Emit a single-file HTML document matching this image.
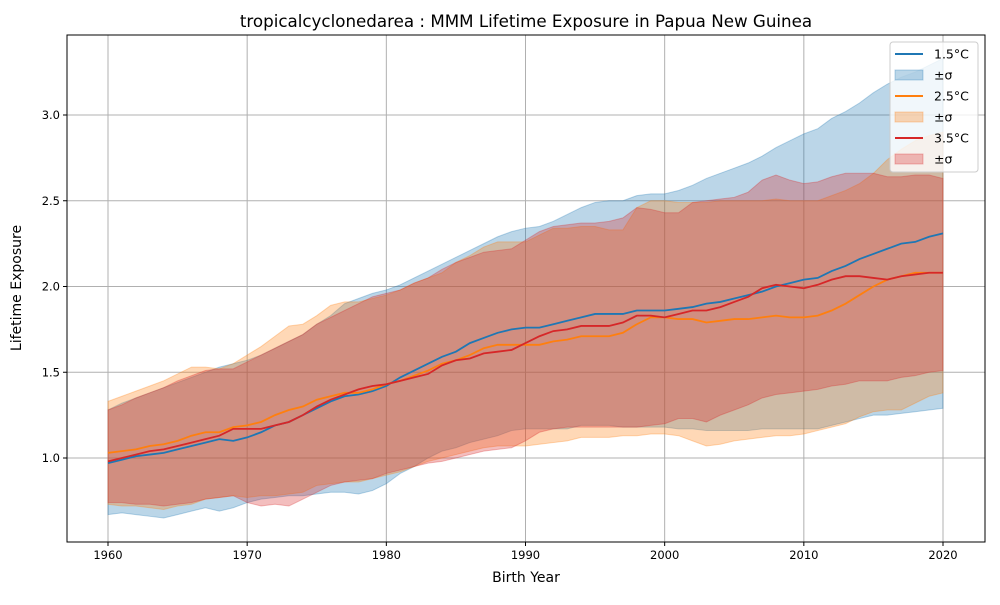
<!DOCTYPE html>
<html><head><meta charset="utf-8"><style>
body{margin:0;background:#fff;font-family:"Liberation Sans","DejaVu Sans",sans-serif}
svg text{font-family:"DejaVu Sans","Liberation Sans",sans-serif}
</style></head><body>
<svg id="chart" width="1000" height="600" xmlns="http://www.w3.org/2000/svg">
<rect width="1000" height="600" fill="#fff"/>
<text x="526" y="27" font-size="16.7" text-anchor="middle">tropicalcyclonedarea : MMM Lifetime Exposure in Papua New Guinea</text>
<g id="grid"></g><g id="bands"></g><g id="lines"></g><g id="axes"></g><g id="legend"></g>
<text x="526" y="582" font-size="14" text-anchor="middle">Birth Year</text>
<text x="21" y="288" font-size="14" text-anchor="middle" transform="rotate(-90 21 288)">Lifetime Exposure</text>
</svg>
<script>
const years=[];for(let y=1960;y<=2020;y++)years.push(y);
const mean15=[.97,.99,1.01,1.02,1.03,1.05,1.07,1.09,1.11,1.10,1.12,1.15,1.19,1.21,1.25,1.29,1.33,1.36,1.37,1.39,1.42,1.47,1.51,1.55,1.59,1.62,1.67,1.70,1.73,1.75,1.76,1.76,1.78,1.80,1.82,1.84,1.84,1.84,1.86,1.86,1.86,1.87,1.88,1.90,1.91,1.93,1.95,1.97,2.00,2.02,2.04,2.05,2.09,2.12,2.16,2.19,2.22,2.25,2.26,2.29,2.31];
const up15=[1.28,1.32,1.35,1.38,1.41,1.44,1.47,1.50,1.53,1.55,1.57,1.60,1.64,1.68,1.72,1.78,1.83,1.90,1.93,1.96,1.98,2.01,2.05,2.09,2.13,2.17,2.21,2.25,2.29,2.32,2.34,2.35,2.38,2.42,2.46,2.49,2.50,2.50,2.53,2.54,2.54,2.56,2.59,2.63,2.66,2.69,2.72,2.76,2.81,2.85,2.89,2.92,2.98,3.02,3.07,3.13,3.18,3.22,3.25,3.29,3.33];
const lo15=[.67,.68,.67,.66,.65,.67,.69,.71,.69,.71,.74,.76,.77,.78,.78,.79,.80,.80,.79,.81,.85,.91,.95,1.00,1.04,1.06,1.09,1.11,1.13,1.16,1.17,1.17,1.17,1.17,1.19,1.19,1.19,1.18,1.18,1.18,1.18,1.17,1.17,1.16,1.16,1.16,1.16,1.17,1.17,1.17,1.17,1.17,1.19,1.21,1.23,1.25,1.25,1.26,1.27,1.28,1.29];
const mean25=[1.03,1.04,1.05,1.07,1.08,1.10,1.13,1.15,1.15,1.18,1.19,1.21,1.25,1.28,1.30,1.34,1.36,1.38,1.38,1.40,1.43,1.45,1.48,1.51,1.55,1.57,1.60,1.64,1.66,1.66,1.66,1.66,1.68,1.69,1.71,1.71,1.71,1.73,1.78,1.82,1.82,1.81,1.81,1.79,1.80,1.81,1.81,1.82,1.83,1.82,1.82,1.83,1.86,1.90,1.95,2.00,2.04,2.06,2.08,2.08,2.08];
const up25=[1.33,1.36,1.39,1.42,1.45,1.49,1.53,1.53,1.52,1.55,1.60,1.65,1.71,1.77,1.78,1.83,1.89,1.91,1.91,1.93,1.95,1.98,2.02,2.05,2.08,2.14,2.18,2.23,2.26,2.26,2.26,2.30,2.34,2.34,2.35,2.35,2.33,2.33,2.46,2.50,2.50,2.49,2.49,2.49,2.50,2.50,2.50,2.50,2.51,2.50,2.50,2.50,2.53,2.56,2.60,2.66,2.74,2.80,2.85,2.88,2.90];
const lo25=[.73,.72,.72,.71,.70,.72,.73,.76,.77,.78,.77,.78,.78,.79,.80,.84,.85,.86,.86,.88,.90,.92,.95,.98,1.00,1.02,1.04,1.06,1.07,1.07,1.07,1.08,1.09,1.10,1.12,1.12,1.12,1.13,1.13,1.14,1.14,1.13,1.10,1.07,1.08,1.10,1.11,1.12,1.13,1.13,1.14,1.16,1.18,1.20,1.24,1.27,1.28,1.28,1.32,1.36,1.38];
const mean35=[.98,1.00,1.02,1.04,1.05,1.07,1.09,1.11,1.13,1.17,1.17,1.17,1.19,1.21,1.25,1.30,1.34,1.37,1.40,1.42,1.43,1.45,1.47,1.49,1.54,1.57,1.58,1.61,1.62,1.63,1.67,1.71,1.74,1.75,1.77,1.77,1.77,1.79,1.83,1.83,1.82,1.84,1.86,1.86,1.88,1.91,1.94,1.99,2.01,2.00,1.99,2.01,2.04,2.06,2.06,2.05,2.04,2.06,2.07,2.08,2.08];
const up35=[1.28,1.31,1.35,1.38,1.41,1.45,1.48,1.51,1.52,1.52,1.56,1.60,1.64,1.68,1.72,1.78,1.82,1.86,1.90,1.94,1.96,1.98,2.02,2.05,2.10,2.14,2.17,2.20,2.21,2.22,2.27,2.32,2.35,2.36,2.37,2.37,2.38,2.40,2.46,2.45,2.43,2.43,2.49,2.50,2.51,2.52,2.55,2.62,2.65,2.62,2.60,2.61,2.64,2.66,2.66,2.66,2.64,2.64,2.65,2.65,2.63];
const lo35=[.74,.74,.73,.73,.72,.73,.74,.76,.77,.78,.74,.72,.73,.72,.76,.80,.84,.86,.87,.88,.91,.93,.95,.97,.98,1.00,1.02,1.04,1.05,1.06,1.10,1.15,1.17,1.18,1.18,1.18,1.18,1.18,1.18,1.19,1.20,1.23,1.23,1.21,1.25,1.28,1.31,1.35,1.37,1.38,1.39,1.40,1.42,1.43,1.45,1.45,1.45,1.47,1.48,1.50,1.51];
const xTicks=[1960,1970,1980,1990,2000,2010,2020];
const yTicks=[1.0,1.5,2.0,2.5,3.0];
const legendLabels=["1.5°C","±σ","2.5°C","±σ","3.5°C","±σ"];
const NS="http://www.w3.org/2000/svg";
const L=67,R=985,T=35,B=542;
const xs=v=>108+(v-1960)*(943-108)/60;
const ys=v=>458-(v-1)*171.5;
function mk(t,a,p){const e=document.createElementNS(NS,t);for(const k in a)e.setAttribute(k,a[k]);p.appendChild(e);return e;}
const grid=document.getElementById('grid'),axes=document.getElementById('axes');
xTicks.forEach(t=>{const x=xs(t);
 const g=mk('line',{x1:x,x2:x,y1:T,y2:B,stroke:'#b0b0b0','stroke-width':1},grid);
 
 
 mk('line',{x1:x,x2:x,y1:B,y2:B+4,stroke:'#000'},axes);
 const tx=mk('text',{x:x,y:B+17,'font-size':11.5,'text-anchor':'middle'},axes);tx.textContent=t;
 
 });
yTicks.forEach(t=>{const y=ys(t);
 const g=mk('line',{x1:L,x2:R,y1:y,y2:y,stroke:'#b0b0b0','stroke-width':1},grid);
 
 
 mk('line',{x1:L-4,x2:L,y1:y,y2:y,stroke:'#000'},axes);
 const tx=mk('text',{x:L-7,y:y+4,'font-size':11.5,'text-anchor':'end'},axes);tx.textContent=t.toFixed(1);
 
 });
const fr=mk('rect',{x:L,y:T,width:R-L,height:B-T,fill:'none',stroke:'#000','stroke-width':1},axes);


const series=[{m:mean15,u:up15,l:lo15,c:'#1f77b4',n:'1.5'},{m:mean25,u:up25,l:lo25,c:'#ff7f0e',n:'2.5'},{m:mean35,u:up35,l:lo35,c:'#d62728',n:'3.5'}];
const bands=document.getElementById('bands'),lines=document.getElementById('lines');
series.forEach(s=>{
 let d=years.map((y,i)=>(i?'L':'M')+xs(y)+','+ys(s.u[i])).join('');
 for(let i=years.length-1;i>=0;i--)d+='L'+xs(years[i])+','+ys(s.l[i]);
 const b=mk('path',{d:d+'Z',fill:s.c,'fill-opacity':0.3,stroke:s.c,'stroke-opacity':0.3},bands);
 
 
 const ln=mk('path',{d:years.map((y,i)=>(i?'L':'M')+xs(y)+','+ys(s.m[i])).join(''),fill:'none',stroke:s.c,'stroke-width':1.8},lines);
 
 });
const lg=document.getElementById('legend');
const box=mk('rect',{x:890,y:42,width:88,height:130,rx:3,fill:'#fff','fill-opacity':0.8,stroke:'#ccc'},lg);


legendLabels.forEach((lab,i)=>{const y=54+i*21;const s=series[Math.floor(i/2)];
 if(i%2==0)mk('line',{x1:895,x2:923,y1:y,y2:y,stroke:s.c,'stroke-width':2},lg);
 else mk('rect',{x:895,y:y-5,width:28,height:10,fill:s.c,'fill-opacity':0.3,stroke:s.c,'stroke-opacity':0.3},lg);
 const t=mk('text',{x:934,y:y+4.5,'font-size':12.5},lg);t.textContent=lab;
 
 });
</script>
</body></html>
